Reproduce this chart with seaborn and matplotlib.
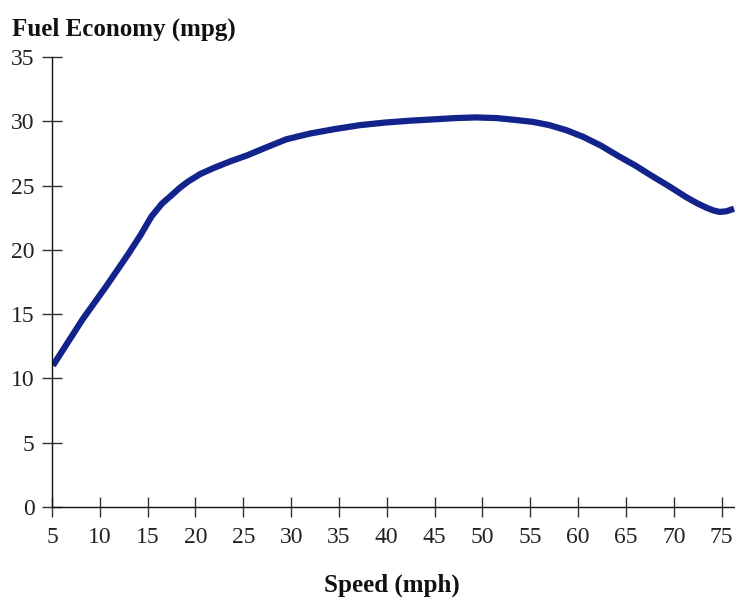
import matplotlib
matplotlib.use("Agg")
import matplotlib.pyplot as plt
import seaborn as sns
import pandas as pd

speed = [5.1, 8.2, 10.7, 13.0, 14.3, 15.4, 16.5, 17.5, 18.4, 19.2, 20.5, 22.0,
         23.7, 25.4, 27.5, 29.5, 32.0, 34.6, 37.2, 39.8, 42.5, 44.9, 47.2, 49.3,
         51.5, 53.5, 55.3, 57.0, 58.8, 60.5, 62.4, 64.2, 66.0, 67.6, 69.5, 71.3,
         72.5, 73.5, 74.2, 74.8, 75.5, 76.3]
mpg = [11.0, 14.6, 17.2, 19.7, 21.2, 22.6, 23.6, 24.25, 24.85, 25.3, 25.9, 26.4,
       26.9, 27.35, 28.0, 28.6, 29.05, 29.4, 29.7, 29.9, 30.05, 30.15, 30.25, 30.3,
       30.25, 30.1, 29.95, 29.7, 29.3, 28.8, 28.1, 27.3, 26.55, 25.8, 24.95, 24.1,
       23.6, 23.25, 23.05, 22.95, 23.0, 23.2]
x_ticks = [5, 10, 15, 20, 25, 30, 35, 40, 45, 50, 55, 60, 65, 70, 75]
y_ticks = [0, 5, 10, 15, 20, 25, 30, 35]

df = pd.DataFrame({"Speed": speed, "MPG": mpg})

sns.set_style("white")
plt.rcParams["font.family"] = ["Liberation Serif", "DejaVu Serif"]

fig = plt.figure(figsize=(7.35, 6.0), dpi=100)
ax = fig.add_axes([52 / 735, 1 - 507 / 600, (735 - 52) / 735, 450 / 600])
sns.lineplot(data=df, x="Speed", y="MPG", ax=ax, color="#13238c", linewidth=4.5,
             solid_capstyle="butt", solid_joinstyle="round")

ax.set_xlim(5, 76.4)
ax.set_ylim(0, 35)
ax.set_xticks(x_ticks)
ax.set_yticks(y_ticks)
ax.tick_params(axis="both", bottom=True, left=True, direction="inout", length=15,
               width=1.0, color="#333333", labelsize=17, labelcolor="#222222")
ax.tick_params(axis="x", pad=7)
ax.tick_params(axis="y", pad=5)
for s in ["top", "right"]:
    ax.spines[s].set_visible(False)
for s in ["left", "bottom"]:
    ax.spines[s].set_color("#111111")
    ax.spines[s].set_linewidth(1.0)
ax.set_xlabel("")
ax.set_ylabel("")
ax.patch.set_alpha(0)

fig.text(12 / 735, 1 - 29 / 600, "Fuel Economy (mpg)", fontsize=18, fontweight="bold",
         ha="left", va="center", color="#111111")
fig.text(392 / 735, 1 - 585 / 600, "Speed (mph)", fontsize=18, fontweight="bold",
         ha="center", va="center", color="#111111")

fig.savefig("out.png", dpi=100)
